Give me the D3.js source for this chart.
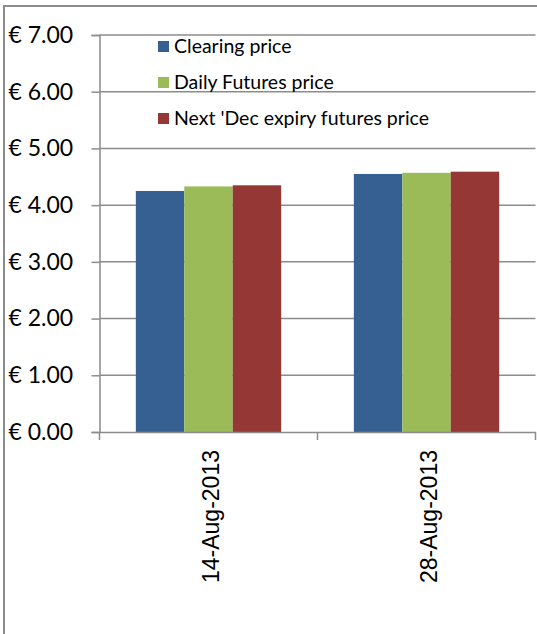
<!DOCTYPE html>
<html>
<head>
<meta charset="utf-8">
<script src="https://cdn.jsdelivr.net/npm/d3@7"></script>
<style>
  body { margin: 0; background: #fff; }
  svg { display: block; }
</style>
</head>
<body>
<div id="chart"></div>
<script>
// chart data
var dates = ["14-Aug-2013", "28-Aug-2013"]
var seriesNames = ["Clearing price", "Daily Futures price", "Next 'Dec expiry futures price"]
var clearing = [4.25, 4.55]
var dailyFutures = [4.33, 4.57]
var decFutures = [4.35, 4.59]
var yTicks = [0, 1, 2, 3, 4, 5, 6, 7]

var colors = ["#376092", "#9bbb59", "#953735"]
var values = [clearing, dailyFutures, decFutures]
var euro = d3.format(".2f")

var W = 537, H = 634
var svg = d3.select("#chart")
    .append("svg")
    .attr("width", W)
    .attr("height", H)

// outer frame (left + top only visible)
svg.append("path")
    .attr("d", "M4,634 L4,6 L537,6")
    .attr("fill", "none")
    .attr("stroke", "#8c8c8c")
    .attr("stroke-width", 2)

var pLeft = 99.5, pRight = 535.5, pTop = 35, pBottom = 432

var x0 = d3.scaleBand()
    .domain(dates)
    .range([pLeft, pRight])
    .paddingInner(0)
    .paddingOuter(0)

var x1 = d3.scaleBand()
    .domain(d3.range(seriesNames.length))
    .range([0, x0.bandwidth()])
    .paddingOuter(0.75)
    .paddingInner(0)

var y = d3.scaleLinear()
    .domain([0, 7])
    .range([pBottom, pTop])

// gridlines
svg.append("g")
    .selectAll("line")
    .data(yTicks.filter(d => d > 0))
    .enter()
    .append("line")
    .attr("x1", pLeft)
    .attr("x2", pRight)
    .attr("y1", d => y(d))
    .attr("y2", d => y(d))
    .attr("stroke", "#8c8c8c")
    .attr("stroke-width", 1.5)

// y axis
var yAxis = svg.append("g")
    .attr("transform", "translate(" + pLeft + ",0)")
    .call(d3.axisLeft(y).tickValues(yTicks).tickSize(8).tickFormat(d => "€ " + euro(d)))
yAxis.select(".domain").attr("stroke", "#8c8c8c").attr("stroke-width", 1.5)
yAxis.selectAll(".tick line").attr("stroke", "#8c8c8c").attr("stroke-width", 1.5)
yAxis.selectAll(".tick text")
    .attr("x", -91)
    .attr("text-anchor", "start")
    .attr("fill", "#000")
    .style("font-family", "Lato, 'Open Sans', sans-serif")
    .style("font-size", "23px")

// bars
var groups = svg.append("g")
    .selectAll("g")
    .data(dates)
    .enter()
    .append("g")
    .attr("transform", d => "translate(" + x0(d) + ",0)")

groups.selectAll("rect")
    .data((d, i) => values.map((s, k) => ({ k: k, v: s[i] })))
    .enter()
    .append("rect")
    .attr("x", d => x1(d.k))
    .attr("width", x1.bandwidth())
    .attr("y", d => y(d.v))
    .attr("height", d => y(0) - y(d.v))
    .attr("fill", d => colors[d.k])

// x axis
var xAxis = svg.append("g")
    .attr("transform", "translate(0," + pBottom + ")")
    .call(d3.axisBottom(x0).tickSize(0))
xAxis.select(".domain").attr("stroke", "#8c8c8c").attr("stroke-width", 1.5)
xAxis.selectAll(".tick text")
    .attr("transform", "rotate(-90)")
    .attr("x", -18)
    .attr("y", 2)
    .attr("dy", "0.35em")
    .attr("text-anchor", "end")
    .attr("fill", "#000")
    .style("font-family", "'Liberation Sans', Arial, sans-serif")
    .style("font-size", "23px")

// category boundary ticks
svg.append("g")
    .selectAll("line")
    .data([pLeft, x0(dates[1]), pRight])
    .enter()
    .append("line")
    .attr("x1", d => d)
    .attr("x2", d => d)
    .attr("y1", pBottom)
    .attr("y2", pBottom + 8)
    .attr("stroke", "#8c8c8c")
    .attr("stroke-width", 1.5)

// legend
var legend = svg.append("g")
    .selectAll("g")
    .data(seriesNames)
    .enter()
    .append("g")
    .attr("transform", (d, i) => "translate(158," + [46, 82, 118][i] + ")")

legend.append("rect")
    .attr("x", 0)
    .attr("y", -5)
    .attr("width", 11)
    .attr("height", 11)
    .attr("fill", (d, i) => colors[i])

legend.append("text")
    .attr("x", 16)
    .attr("y", 0)
    .attr("dy", "0.35em")
    .text(d => d)
    .attr("fill", "#000")
    .style("font-family", "Lato, 'Open Sans', sans-serif")
    .style("font-size", "19.5px")
</script>
</body>
</html>
